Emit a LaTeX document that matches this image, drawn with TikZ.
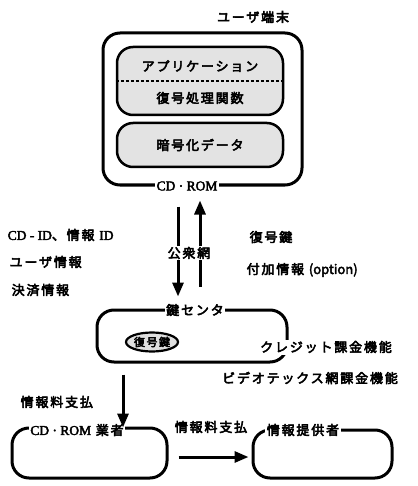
\documentclass[tikz,border=0pt]{standalone}
\usepackage{fontspec}
\usetikzlibrary{arrows.meta,shapes.geometric}
\newfontfamily\jp{Noto Sans CJK JP}[LetterSpace=14,FakeBold=4]
\newfontfamily\jpl{Noto Sans CJK JP}[FakeBold=3]
\newfontfamily\lat{Liberation Serif}[FakeBold=3]
\begin{document}
\begin{tikzpicture}[x=1pt,y=-1pt,
  txt/.style={font=\jp\fontsize{13}{15}\selectfont, inner sep=1.5pt},
  lbl/.style={txt, fill=white},
  bigbox/.style={draw, line width=3pt, rounded corners=17pt, fill=white},
  innerbox/.style={draw, line width=2.5pt, rounded corners=16pt, fill=gray!22},
  arr/.style={line width=3pt, -{Triangle[length=14pt,width=11pt]}}]
\useasboundingbox (0,0) rectangle (417,486);
% user terminal
\node[bigbox, minimum width=199pt, minimum height=152pt] (term) at (202.5,109) {};
\node[txt] (termlbl) at (253,17) {ユーザ端末};
\node[innerbox, minimum width=166pt, minimum height=68pt] (app) at (200,81) {};
\draw[line width=1.2pt, densely dashed] (app.west) -- (app.east);
\node[txt] (applbl) at (200,66) {アプリケーション};
\node[txt] (dec) at (200,98) {復号処理関数};
\node[innerbox, minimum width=166pt, minimum height=44pt] (enc) at (200,145) {};
\node[txt] (enclbl) at (200,145) {暗号化データ};
\node[lbl, font=\lat\fontsize{13.5}{15}\selectfont] (cdrom) at (187,186) {CD · ROM};
% key center
\node[bigbox, minimum width=190pt, minimum height=52pt] (key) at (192,336) {};
\node[lbl] (keylbl) at (195,310) {鍵センタ};
\node[draw, ellipse, line width=2.2pt, fill=gray!25, minimum width=52pt, minimum height=19pt, inner sep=0pt] (ekey) at (152,342) {};
\node[txt, font=\jp\fontsize{11}{12}\selectfont] (ekeylbl) at (152,342) {復号鍵};
\node[lbl] (credit) at (326,347) {クレジット課金機能};
\node[txt] (video) at (310,378) {ビデオテックス網課金機能};
% arrows between terminal and key center
\draw[arr] ([xshift=-24.5pt,yshift=-20pt]term.south) -- ([xshift=-14pt,yshift=12pt]key.north);
\draw[arr] ([xshift=8pt,yshift=22pt]key.north) -- ([xshift=-2.5pt,yshift=-14pt]term.south);
\node[lbl, inner sep=1pt] (pub) at (189,253) {公衆網};
\node[txt, anchor=west] (l1) at (6,235) {{\lat\fontsize{13.5}{15}\selectfont CD - ID}、情報 {\lat\fontsize{13.5}{15}\selectfont ID}};
\node[txt, anchor=west] (l2) at (8,262) {ユーザ情報};
\node[txt, anchor=west] (l3) at (10,290) {決済情報};
\node[txt, anchor=west] (r1) at (248,237) {復号鍵};
\node[txt, anchor=west] (r2) at (245,270) {付加情報 {\jpl(option)}};
% vendor and provider
\node[bigbox, minimum width=155pt, minimum height=50pt] (vendor) at (89.5,453) {};
\node[lbl] (vendlbl) at (77,430) {{\lat\fontsize{13.5}{15}\selectfont CD · ROM} 業者};
\node[bigbox, minimum width=139pt, minimum height=48pt] (prov) at (322.5,454) {};
\node[lbl] (provlbl) at (303,430) {情報提供者};
\draw[arr] ([xshift=-69pt,yshift=-11pt]key.south) -- ([xshift=33.5pt,yshift=-1pt]vendor.north);
\node[txt, anchor=west] (pay1) at (19,402) {情報料支払};
\draw[arr] ([xshift=10pt,yshift=-4pt]vendor.east) -- ([xshift=-3pt,yshift=-3pt]prov.west);
\node[txt] (pay2) at (211,427) {情報料支払};
\end{tikzpicture}
\end{document}
